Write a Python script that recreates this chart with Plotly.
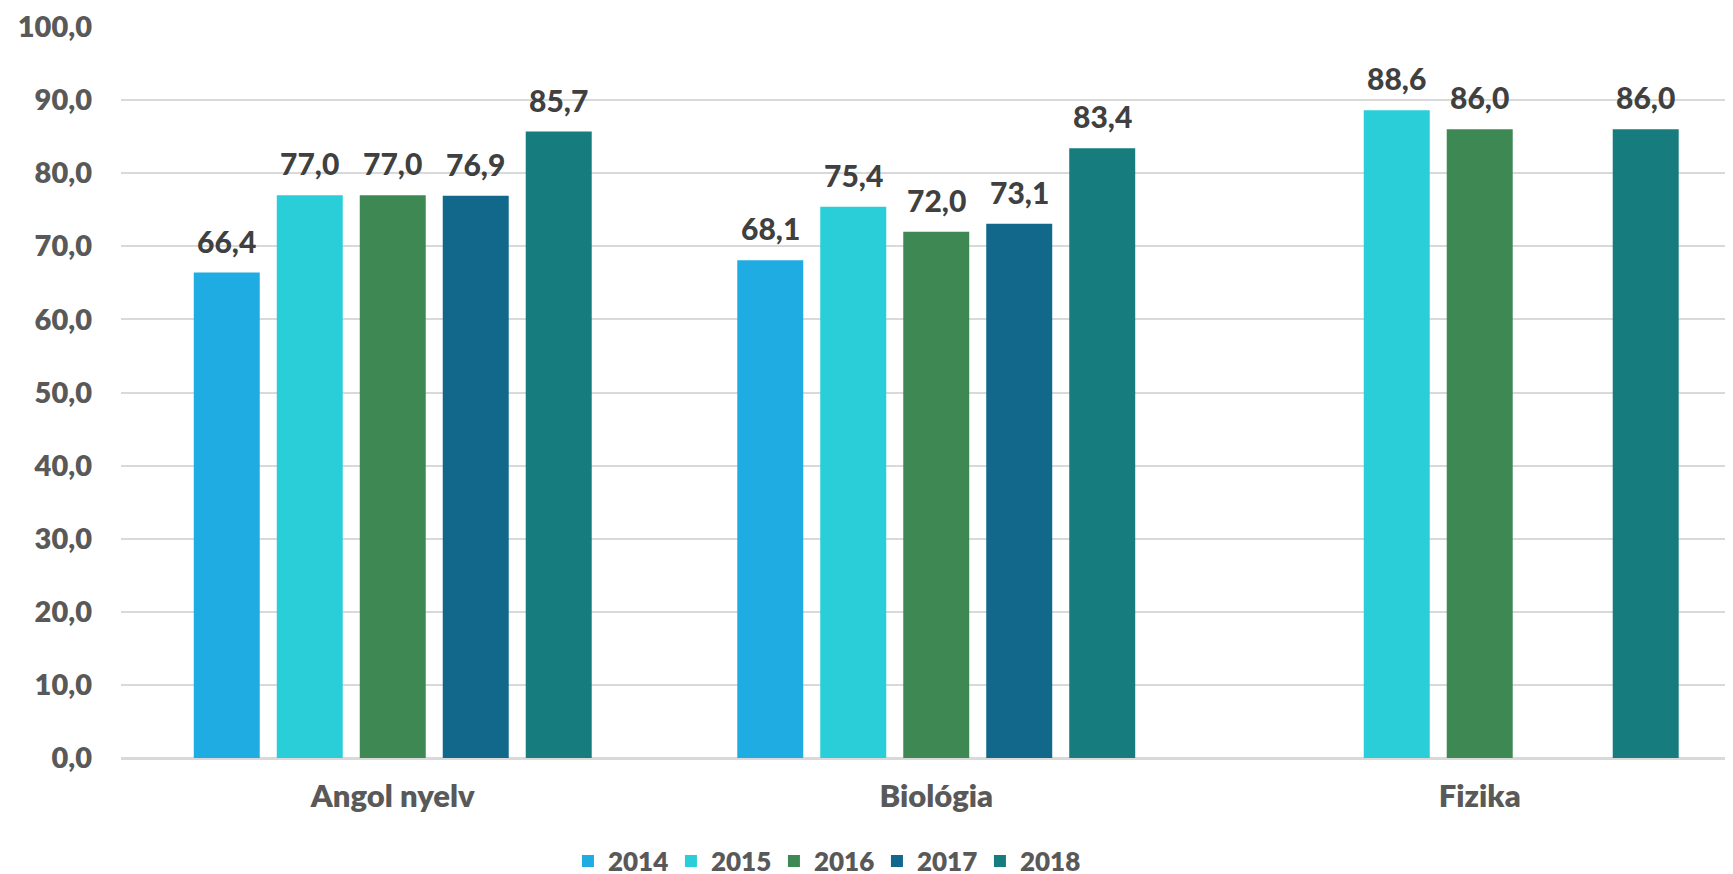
import plotly.graph_objects as go

categories = ["Angol nyelv", "Biológia", "Fizika"]
years = ["2014", "2015", "2016", "2017", "2018"]
v2014 = [66.4, 68.1, None]
v2015 = [77.0, 75.4, 88.6]
v2016 = [77.0, 72.0, 86.0]
v2017 = [76.9, 73.1, None]
v2018 = [85.7, 83.4, 86.0]
series = [v2014, v2015, v2016, v2017, v2018]
colors = ["#1FACE3", "#29CED8", "#3E8853", "#11688A", "#177C7E"]

FONT = "Lato"
fig = go.Figure()
for name, vals, col in zip(years, series, colors):
    fig.add_trace(go.Bar(
        name=name, x=categories, y=vals, marker=dict(color=col, line=dict(width=0)),
    ))

# data labels as annotations positioned via the category axis
slot = 1 - 0.2365  # group width in category units
step = slot / 5
for i, vals in enumerate(series):
    off = (i - 2) * step
    for ci, v in enumerate(vals):
        if v is None:
            continue
        fig.add_annotation(
            x=ci + off, y=v, xref="x", yref="y",
            text=f"{v:.1f}".replace(".", ","), showarrow=False,
            yanchor="middle", yshift=32,
            font=dict(family=FONT, size=30, color="#404040", weight=900),
        )

fig.update_layout(
    width=1733, height=874,
    margin=dict(l=113, r=8, t=19, b=124, autoexpand=False),
    paper_bgcolor="white", plot_bgcolor="white",
    barmode="group", bargap=0.2365, bargroupgap=0.205,
    separators=", ",
    font=dict(family=FONT, size=28, color="#595959", weight=800),
    legend=dict(orientation="h", x=0.437, xanchor="center", y=-0.141, yanchor="middle",
                font=dict(family=FONT, size=26, color="#595959", weight=800),
                itemwidth=30, traceorder="normal",
                entrywidth=58, entrywidthmode="pixels"),
    showlegend=True,
)
fig.update_xaxes(
    type="category", range=[-0.5, 2.466], showgrid=False, automargin=False,
    showline=False, ticks="", ticklabelstandoff=17,
    tickfont=dict(family=FONT, size=31, color="#595959", weight=800),
)
fig.update_yaxes(
    range=[0, 100], dtick=10, tickformat=".1f", automargin=False,
    showgrid=True, gridcolor="#D9D9D9", gridwidth=1.6,
    zeroline=True, zerolinecolor="#D9D9D9", zerolinewidth=2.5,
    showline=False, ticks="", ticklabelstandoff=28,
    tickfont=dict(family=FONT, size=29, color="#595959", weight=800),
)
fig.write_html("out.html")
